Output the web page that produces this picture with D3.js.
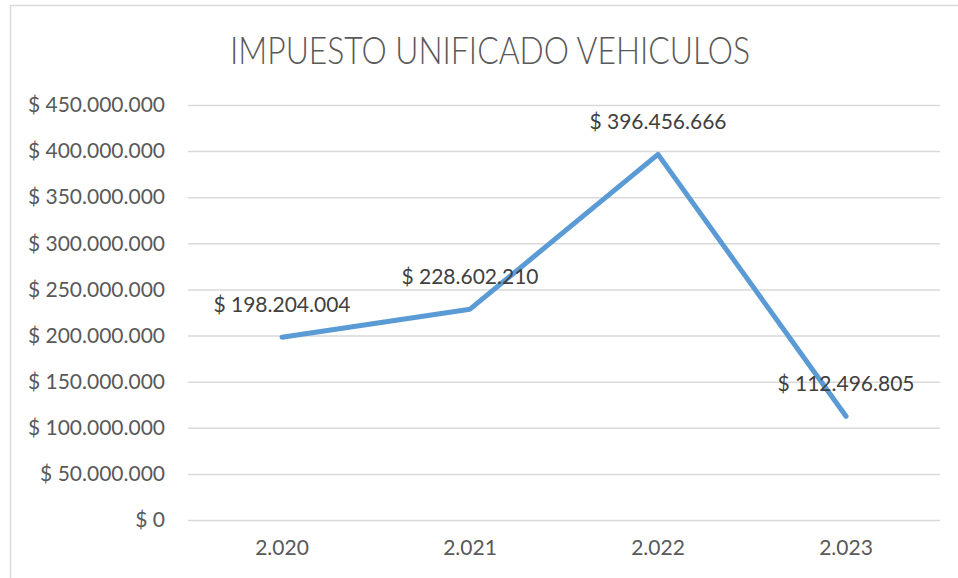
<!DOCTYPE html>
<html>
<head>
<meta charset="utf-8">
<script src="https://cdn.jsdelivr.net/npm/d3@7"></script>
<style>
  body { margin: 0; background: #fff; }
  text { font-family: Lato, "Open Sans", sans-serif; }
</style>
</head>
<body>
<div id="chart-area"></div>
<script>
// data
var years = ['2.020', '2.021', '2.022', '2.023'];
var values = [198204004, 228602210, 396456666, 112496805];
var yTicks = [0, 50000000, 100000000, 150000000, 200000000, 250000000, 300000000, 350000000, 400000000, 450000000];
var title = 'IMPUESTO UNIFICADO VEHICULOS';

var W = 958, H = 578;
var margin = { top: 105, right: 18, bottom: 58, left: 188 };
var width = W - margin.left - margin.right;
var height = H - margin.top - margin.bottom;

function money(v) {
    if (v === 0) return '$ 0';
    return '$ ' + d3.format(',')(v).replace(/,/g, '.');
}

var svg = d3.select('#chart-area')
    .append('svg')
    .attr('width', W)
    .attr('height', H);

// chart frame
svg.append('rect')
    .attr('x', 10.5).attr('y', 5.5)
    .attr('width', W + 10).attr('height', H + 10)
    .attr('fill', '#fff')
    .attr('stroke', '#d9d9d9')
    .attr('stroke-width', 1.5);

svg.append('text')
    .attr('x', 490)
    .attr('y', 64)
    .attr('text-anchor', 'middle')
    .attr('fill', '#595959')
    .attr('textLength', 520)
    .attr('lengthAdjust', 'spacingAndGlyphs')
    .style('font-size', '37px')
    .style('font-weight', 300)
    .text(title);

var graph = svg.append('g')
    .attr('transform', 'translate(' + margin.left + ',' + margin.top + ')');

var x = d3.scaleBand()
    .domain(years)
    .range([0, width])
    .padding(0);

var y = d3.scaleLinear()
    .domain([0, 450000000])
    .range([height, 0]);

// gridlines + y labels
var yAxis = d3.axisLeft(y)
    .tickValues(yTicks)
    .tickSize(-width)
    .tickPadding(23)
    .tickFormat(money);
var yg = graph.append('g')
    .attr('class', 'y-axis')
    .call(yAxis);
yg.select('.domain').remove();
yg.selectAll('line').attr('stroke', '#d9d9d9').attr('stroke-width', 1.5);
yg.selectAll('text')
    .attr('fill', '#595959')
    .style('font-size', '21px')
    .style('font-family', 'Lato, sans-serif');

var xAxis = d3.axisBottom(x)
    .tickSize(0)
    .tickPadding(20);
var xg = graph.append('g')
    .attr('class', 'x-axis')
    .attr('transform', 'translate(0,' + height + ')')
    .call(xAxis);
xg.select('.domain').remove();
xg.selectAll('text')
    .attr('fill', '#595959')
    .style('font-size', '21px')
    .style('font-family', 'Lato, sans-serif');

var line = d3.line()
    .x(function (d, i) { return x(years[i]) + x.bandwidth() / 2; })
    .y(function (d) { return y(d); });

graph.append('path')
    .datum(values)
    .attr('d', line)
    .attr('fill', 'none')
    .attr('stroke', '#5b9bd5')
    .attr('stroke-width', 5)
    .attr('stroke-linejoin', 'round')
    .attr('stroke-linecap', 'round');

graph.selectAll('.label')
    .data(values)
    .enter()
    .append('text')
    .attr('class', 'label')
    .attr('x', function (d, i) { return x(years[i]) + x.bandwidth() / 2; })
    .attr('y', function (d) { return y(d) - 25; })
    .attr('text-anchor', 'middle')
    .attr('fill', '#404040')
    .style('font-size', '21px')
    .text(money);
</script>
</body>
</html>
